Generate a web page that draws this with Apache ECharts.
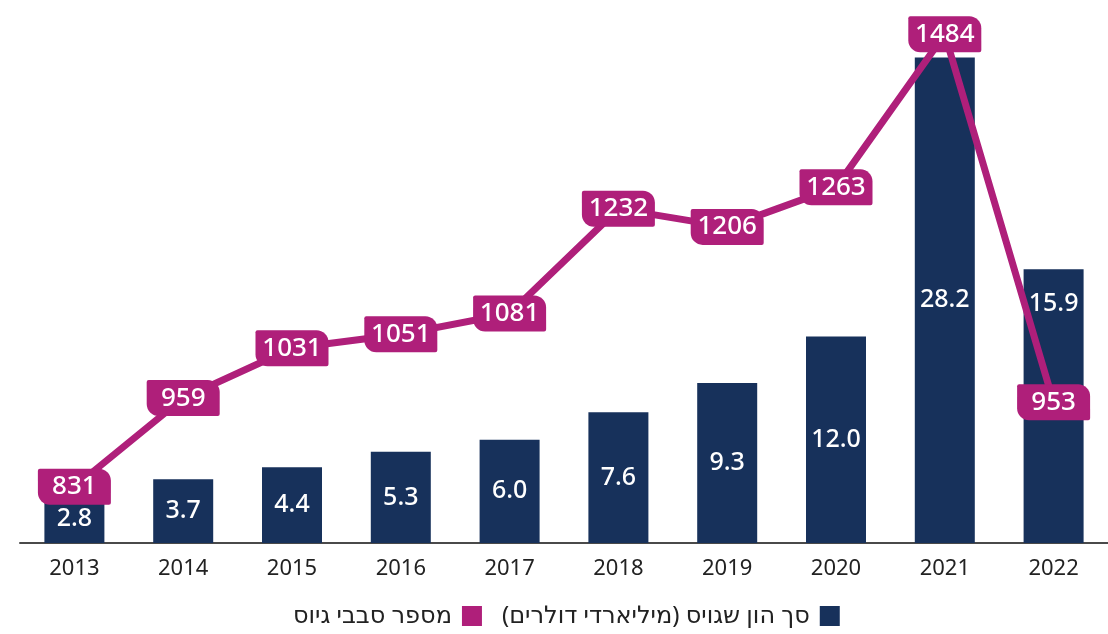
<!DOCTYPE html>
<html>
<head>
<meta charset="utf-8">
<script src="https://cdn.jsdelivr.net/npm/echarts@6/dist/echarts.min.js"></script>
<style>
  html, body { margin: 0; padding: 0; background: #fff; }
  #chart { width: 1108px; height: 634px; }
</style>
</head>
<body>
<div id="chart"></div>
<script>
// data
const years = ['2013', '2014', '2015', '2016', '2017', '2018', '2019', '2020', '2021', '2022'];
const capitalRaised = [2.8, 3.7, 4.4, 5.3, 6.0, 7.6, 9.3, 12.0, 28.2, 15.9]; // billions USD
const fundingRounds = [831, 959, 1031, 1051, 1081, 1232, 1206, 1263, 1484, 953];

const barName = 'סך הון שגויס (מיליארדי דולרים)\u200F';
const lineName = 'מספר סבבי גיוס';

const navy = '#17315b';
const magenta = '#af1f7a';
const font = '"Noto Sans", "DejaVu Sans", sans-serif';

const chart = echarts.init(document.getElementById('chart'));

// last bar label pushed up so it clears the line label
const barData = capitalRaised.map(function (v, i) {
  if (i === capitalRaised.length - 1) {
    return { value: v, label: { position: 'insideTop', distance: 22 } };
  }
  return v;
});

chart.setOption({
  animation: false,
  textStyle: { fontFamily: font },
  grid: { left: 20, right: 0, top: 30, bottom: 91 },
  legend: {
    bottom: 1,
    left: 288,
    align: 'right',
    icon: 'rect',
    itemWidth: 20,
    itemHeight: 20,
    itemGap: 20,
    data: [lineName, barName],
    textStyle: { fontSize: 24, color: '#222', fontFamily: font, padding: [0, 5, 0, 0] }
  },
  xAxis: {
    type: 'category',
    data: years,
    axisTick: { show: false },
    axisLine: { lineStyle: { color: '#4a4a4a', width: 2 } },
    axisLabel: { color: '#222', fontSize: 22, margin: 15, fontFamily: font }
  },
  yAxis: [{
    type: 'value',
    min: 0,
    max: 29.8,
    show: false,
    splitLine: { show: false }
  }, {
    type: 'value',
    min: 750,
    max: 1490,
    show: false,
    splitLine: { show: false }
  }],
  series: [{
    name: barName,
    type: 'bar',
    barWidth: 60,
    itemStyle: { color: navy },
    label: {
      show: true,
      position: 'inside',
      color: '#fff',
      fontSize: 25,
      fontWeight: 500,
      fontFamily: font,
      formatter: function (p) { return p.value.toFixed(1); }
    },
    data: barData,
    z: 2
  }, {
    name: lineName,
    type: 'line',
    yAxisIndex: 1,
    symbol: 'circle',
    symbolSize: 2,
    showSymbol: true,
    lineStyle: { color: magenta, width: 7 },
    itemStyle: { color: magenta },
    label: {
      show: true,
      position: 'inside',
      color: '#fff',
      fontSize: 26,
      fontWeight: 500,
      fontFamily: font,
      backgroundColor: magenta,
      borderRadius: [2, 12, 2, 12],
      width: 65,
      height: 32,
      lineHeight: 32,
      align: 'center',
      verticalAlign: 'middle',
      padding: [2, 4]
    },
    labelLayout: { hideOverlap: false },
    data: fundingRounds,
    z: 5
  }]
});
</script>
</body>
</html>
